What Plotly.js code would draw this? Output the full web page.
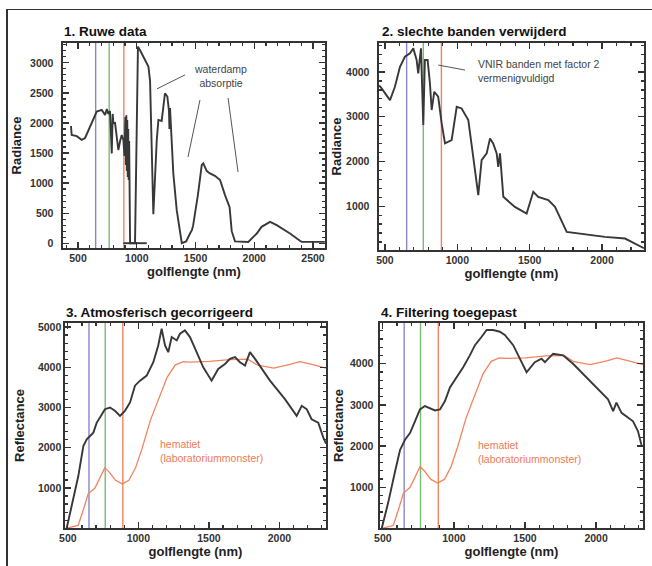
<!DOCTYPE html>
<html><head><meta charset="utf-8">
<script src="https://cdn.plot.ly/plotly-3.0.1.min.js"></script>
<style>
html,body{margin:0;padding:0;background:#fff;}
#wrap{position:relative;width:652px;height:566px;}
#frame{position:absolute;left:6px;top:9px;right:0;bottom:0;border-top:1.5px solid #333;border-left:2px solid #333;pointer-events:none;z-index:5;}
#chart{position:absolute;left:0;top:0;width:652px;height:566px;}
</style>
</head><body><div id="wrap"><div id="chart"></div><div id="frame"></div></div>
<script>
// ---------- DATA ----------
const panelTitles = ["1. Ruwe data", "2. slechte banden verwijderd", "3. Atmosferisch gecorrigeerd", "4. Filtering toegepast"];
const xTitle = "golflengte (nm)";
const yTitles = ["Radiance", "Radiance", "Reflectance", "Reflectance"];
const bandsRGB = [650, 765, 890];
const bandColors = ["#8a86cc", "#78bc78", "#ee8466"];

// 1. raw data (radiance)
const wl1 = [440,446,489,531,560,602,631,659,702,730,745,758,772,780,787,795,801,815,829,843,858,872,886,895,903,907,911,915,919,923,927,931,935,939,943,985,1010,1030,1056,1099,1113,1125,1141,1170,1184,1212,1240,1260,1269,1274,1278,1283,1311,1340,1383,1420,1453,1470,1480,1520,1553,1566,1596,1623,1665,1709,1751,1790,1808,1836,1949,1992,2021,2062,2134,2191,2277,2304,2389,2403,2600];
const rad1 = [1950,1800,1780,1720,1750,1950,2080,2190,2217,2133,2230,2150,2200,1750,1494,2150,1994,2000,1772,1550,1700,1800,1717,1450,2100,1300,2130,1200,2050,1100,1900,1050,1700,1150,0,0,3270,3200,3106,2939,2700,1600,480,1717,2050,2033,2494,2440,2272,2200,1900,2250,1161,550,0,30,161,220,300,800,1300,1328,1200,1161,1120,1050,800,600,200,30,20,105,161,272,355,300,200,161,40,22,22];
const baseWl1 = [885, 1085];
const baseRad1 = [0, 0];

// 2. bad bands removed (radiance)
const wl2 = [460,477,535,569,604,638,673,696,719,730,749,765,776,795,811,823,841,868,892,915,961,996,1030,1076,1110,1145,1168,1203,1226,1248,1272,1283,1295,1318,1398,1479,1525,1559,1629,1675,1756,2020,2159,2274,2290];
const rad2 = [3700,3636,3373,3672,4119,4343,4418,4530,4269,3970,4530,2814,4269,4269,3747,3150,3560,3448,2852,2404,2479,3224,3187,2926,2105,1247,2030,2180,2516,2404,2180,1880,2180,1209,985,837,1321,1209,1134,985,425,313,276,90,60];

// 3. atmospherically corrected (reflectance)
const wl3 = [492,539,574,610,634,681,705,728,763,799,834,870,905,941,976,1012,1059,1106,1141,1165,1189,1212,1236,1272,1295,1330,1366,1413,1460,1519,1566,1614,1649,1685,1720,1756,1791,1827,1933,2039,2122,2158,2193,2228,2275,2311,2330];
const ref3 = [0,708,1290,2040,2208,2375,2625,2750,2958,3000,2917,2792,2917,3125,3542,3667,3792,4125,4542,4958,4542,4375,4750,4667,4833,4917,4750,4375,4000,3667,3958,4083,4208,4250,4125,4042,4375,4208,3667,3208,2792,3042,2958,2708,2625,2250,2100];

// 4. filtered (reflectance)
const wl4 = [492,538,585,621,656,691,726,761,796,831,867,902,937,972,1019,1065,1112,1148,1195,1230,1276,1323,1358,1417,1511,1569,1616,1640,1698,1768,1838,1968,2084,2120,2143,2179,2214,2260,2295,2319];
const ref4 = [0,633,1372,1906,2153,2315,2603,2891,2973,2916,2867,2891,3096,3424,3670,3916,4204,4451,4655,4820,4820,4778,4700,4451,3793,4039,4121,4039,4244,4204,3999,3547,3137,2850,3054,2808,2727,2603,2357,2029];

// hematite lab spectrum
const wlHem = [492,530,573,610,645,692,740,762,792,838,886,933,980,1027,1085,1145,1204,1262,1320,1365,1430,1505,1645,1775,1845,1960,2075,2145,2230,2330];
const hematiet = [0,30,70,460,860,1000,1330,1500,1400,1190,1100,1190,1500,1990,2680,3230,3750,4060,4140,4130,4140,4145,4190,4200,4050,3980,4070,4140,4070,3980];

// pointer lines for the labels (wavelength / value pairs)
const ptrWater = [[1411,1172,2800,2567],[1538,1436,2383,1433],[1777,1862,2417,1183]];
const ptrVnir = [[868,1053,4157,4045]];

// axis ranges
const xRanges = [[372,2602],[459,2290],[480,2330],[480,2330]];
const yRanges = [[-80,3330],[20,4650],[5,5100],[10,4990]];

// ---------- LAYOUT ----------
const W = 652, H = 566;
const fx = p => p / W, fy = p => 1 - p / H;
const FONT = "Liberation Sans, Arial, sans-serif";
const AX = "#333333";
const NB = "\u00a0";

function xa(d0, d1, range, anchor, standoff) {
  return {domain:[fx(d0), fx(d1)], range, anchor, tickmode:"linear", tick0:0, dtick:500,
    ticks:"inside", ticklen:6, tickwidth:1.2, tickcolor:AX, mirror:"ticks",
    showline:true, linecolor:AX, linewidth:1.6, showgrid:false, zeroline:false,
    minor:{ticks:"inside", ticklen:3, dtick:100},
    tickfont:{family:FONT, size:10.5, color:"#333", weight:"bold"},
    title:{text:xTitle, font:{family:FONT, size:13, color:"#222", weight:"bold"}, standoff:standoff}};
}
function ya(d0, d1, range, dtick, minor, anchor, title, standoff, gap) {
  return {domain:[fy(d1), fy(d0)], range, anchor, tickmode:"linear", tick0:0, dtick,
    ticks:"inside", ticklen:6, tickwidth:1.2, tickcolor:AX, mirror:"ticks",
    showline:true, linecolor:AX, linewidth:1.6, showgrid:false, zeroline:false,
    minor:{ticks:"inside", ticklen:3, dtick:minor}, ticksuffix:NB.repeat(gap),
    tickfont:{family:FONT, size:10.5, color:"#333", weight:"bold"},
    title:{text:title, font:{family:FONT, size:13, color:"#222", weight:"bold"}, standoff:standoff}};
}

const blackLine = {color:"#383838", width:1.9};
const hemLine = {color:"#f2845e", width:1.3};
const ptrLine = {color:"#555", width:1};
const sfx = ["", "2", "3", "4"];

const traces = [];
// band marker lines (below the spectra)
sfx.forEach((s, p) => {
  bandsRGB.forEach((b, i) => traces.push({x:[b, b], y:yRanges[p], xaxis:"x"+s, yaxis:"y"+s,
    mode:"lines", line:{color:bandColors[i], width:1.4}, hoverinfo:"skip"}));
});
traces.push(
  {x:wl1, y:rad1, xaxis:"x", yaxis:"y", mode:"lines", line:blackLine},
  {x:baseWl1, y:baseRad1, xaxis:"x", yaxis:"y", mode:"lines", line:blackLine},
  {x:wl2, y:rad2, xaxis:"x2", yaxis:"y2", mode:"lines", line:blackLine},
  {x:wlHem, y:hematiet, xaxis:"x3", yaxis:"y3", mode:"lines", line:hemLine},
  {x:wl3, y:ref3, xaxis:"x3", yaxis:"y3", mode:"lines", line:blackLine},
  {x:wlHem, y:hematiet, xaxis:"x4", yaxis:"y4", mode:"lines", line:hemLine},
  {x:wl4, y:ref4, xaxis:"x4", yaxis:"y4", mode:"lines", line:blackLine}
);
ptrWater.forEach(p => traces.push({x:[p[0], p[1]], y:[p[2], p[3]], xaxis:"x", yaxis:"y", mode:"lines", line:ptrLine}));
ptrVnir.forEach(p => traces.push({x:[p[0], p[1]], y:[p[2], p[3]], xaxis:"x2", yaxis:"y2", mode:"lines", line:ptrLine}));

const tFont = {family:FONT, size:13.5, color:"#111", weight:"bold"};
const aFont = {family:FONT, size:10.5, color:"#444"};
const hFont = {family:FONT, size:10.5, color:"#f07a55"};
const annotations = [
  {xref:"paper", yref:"paper", x:fx(62), y:fy(32), xanchor:"left", yanchor:"middle", text:panelTitles[0], showarrow:false, font:tFont},
  {xref:"paper", yref:"paper", x:fx(380), y:fy(32), xanchor:"left", yanchor:"middle", text:panelTitles[1], showarrow:false, font:tFont},
  {xref:"paper", yref:"paper", x:fx(64), y:fy(312), xanchor:"left", yanchor:"middle", text:panelTitles[2], showarrow:false, font:tFont},
  {xref:"paper", yref:"paper", x:fx(379), y:fy(312), xanchor:"left", yanchor:"middle", text:panelTitles[3], showarrow:false, font:tFont},
  {xref:"x", yref:"y", x:1709, y:2775, xanchor:"center", yanchor:"middle", text:"waterdamp<br>absorptie", showarrow:false, font:aFont},
  {xref:"x2", yref:"y2", x:1129, y:4020, xanchor:"left", yanchor:"middle", align:"left", text:"VNIR banden met factor 2<br>vermenigvuldigd", showarrow:false, font:aFont},
  {xref:"x3", yref:"y3", x:1141, y:1930, xanchor:"left", yanchor:"middle", align:"left", text:"hematiet<br>(laboratoriummonster)", showarrow:false, font:hFont},
  {xref:"x4", yref:"y4", x:1155, y:1850, xanchor:"left", yanchor:"middle", align:"left", text:"hematiet<br>(laboratoriummonster)", showarrow:false, font:hFont}
];

const layout = {
  width:W, height:H, margin:{l:0, r:0, t:0, b:0}, showlegend:false,
  xaxis: xa(63, 325, xRanges[0], "y", 3),
  yaxis: ya(43, 248, yRanges[0], 500, 100, "x", yTitles[0], 5, 2),
  xaxis2: xa(379, 644, xRanges[1], "y2", 3),
  yaxis2: ya(43, 250, yRanges[1], 1000, 200, "x2", yTitles[1], 1, 2),
  xaxis3: xa(65, 326, xRanges[2], "y3", 3),
  yaxis3: ya(323, 528, yRanges[2], 1000, 200, "x3", yTitles[2], 10, 0),
  xaxis4: xa(380, 643, xRanges[3], "y4", 3),
  yaxis4: ya(323, 528, yRanges[3], 1000, 200, "x4", yTitles[3], 3, 1),
  annotations
};

Plotly.newPlot("chart", traces, layout, {staticPlot:true});
</script></body></html>
